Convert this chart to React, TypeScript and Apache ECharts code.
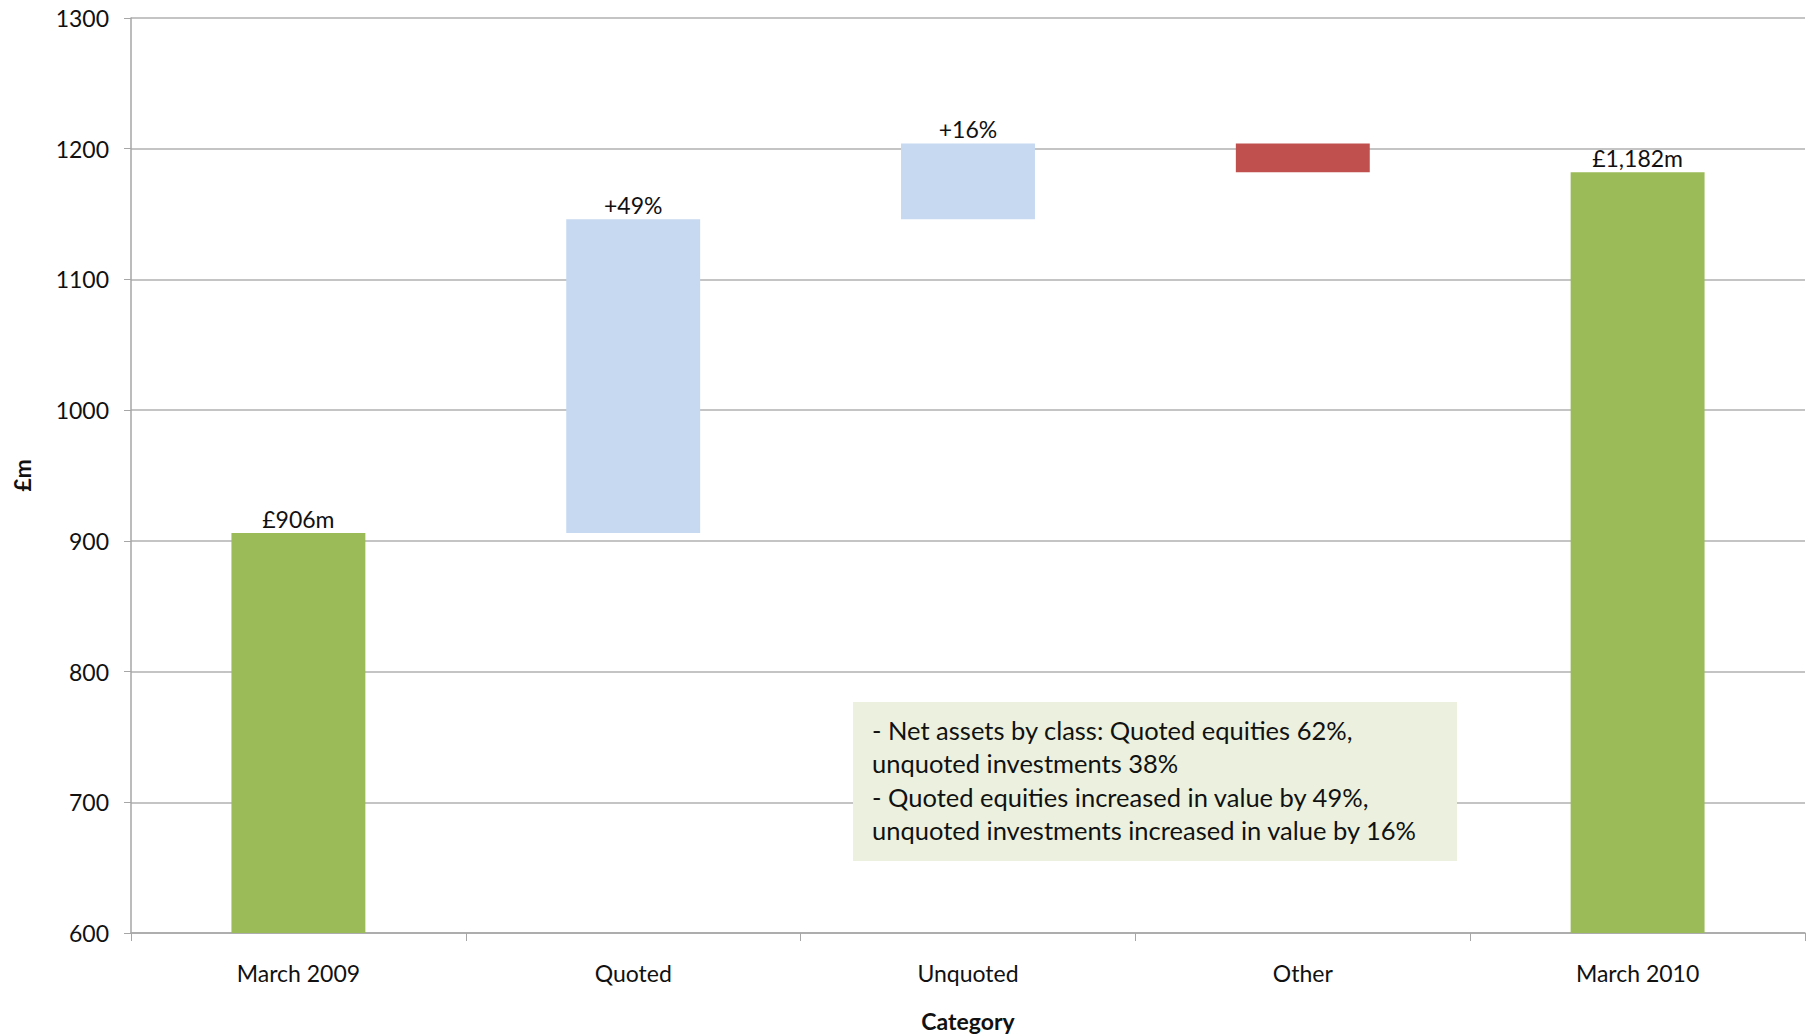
import React, { useEffect, useRef } from "react";
import * as echarts from "echarts";

// Waterfall of net assets, £m
const categories = ["March 2009", "Quoted", "Unquoted", "Other", "March 2010"];
// Invisible base under each floating bar
const baseValues = [0, 906, 1146, 1182, 0];
// Visible bar heights (change for the middle steps, totals at the ends)
const stepValues = [906, 240, 58, 22, 1182];
const barColors = ["#9BBB59", "#C6D9F1", "#C6D9F1", "#C0504D", "#9BBB59"];
const barLabels = ["£906m", "+49%", "+16%", "", "£1,182m"];
const yTicks = { min: 600, max: 1300, interval: 100 };
const noteLines = [
  "- Net assets by class: Quoted equities 62%,",
  "unquoted investments 38%",
  "- Quoted equities increased in value by 49%,",
  "unquoted investments increased in value by 16%",
];

const FONT = "Lato, 'Open Sans', sans-serif";
const INK = "#111111";

export default function App() {
  const ref = useRef<HTMLDivElement>(null);

  useEffect(() => {
    if (!ref.current) return;
    const chart = echarts.init(ref.current, undefined, { renderer: "svg" });
    chart.setOption({
      animation: false,
      textStyle: { fontFamily: FONT },
      grid: { left: 131, right: 8, top: 18, bottom: 103, outerBoundsMode: "none" },
      xAxis: {
        type: "category",
        data: categories,
        name: "Category",
        nameLocation: "middle",
        nameGap: 76,
        nameTextStyle: { fontSize: 23, fontWeight: "bold", color: INK, fontFamily: FONT },
        axisLine: { lineStyle: { color: "#A6A6A6", width: 1.5 } },
        axisTick: { show: true, length: 8, lineStyle: { color: "#A6A6A6" } },
        axisLabel: { fontSize: 23, color: INK, margin: 28, fontFamily: FONT },
      },
      yAxis: {
        type: "value",
        min: yTicks.min,
        max: yTicks.max,
        interval: yTicks.interval,
        name: "£m",
        nameLocation: "middle",
        nameGap: 98,
        nameRotate: 90,
        nameTextStyle: { fontSize: 23, fontWeight: "bold", color: INK, fontFamily: FONT },
        axisLine: { show: true, lineStyle: { color: "#A6A6A6", width: 1.5 } },
        axisTick: { show: true, length: 7, lineStyle: { color: "#A6A6A6" } },
        axisLabel: {
          fontSize: 23,
          color: INK,
          margin: 22,
          fontFamily: FONT,
          formatter: (v: number) => String(v),
        },
        splitLine: { lineStyle: { color: "#B0B0B0", width: 1.5 } },
      },
      series: [
        {
          type: "bar",
          stack: "w",
          data: baseValues,
          itemStyle: { color: "transparent" },
          barCategoryGap: "60%",
          silent: true,
        },
        {
          type: "bar",
          stack: "w",
          barCategoryGap: "60%",
          data: stepValues.map((v, i) => ({ value: v, itemStyle: { color: barColors[i] } })),
          label: {
            show: true,
            position: "top",
            distance: 3,
            fontSize: 23,
            color: INK,
            fontFamily: FONT,
            formatter: (p: any) => barLabels[p.dataIndex],
          },
        },
      ],
      graphic: [
        {
          type: "group",
          left: 853,
          top: 702,
          z: 100,
          children: [
            {
              type: "rect",
              z: 100,
              shape: { x: 0, y: 0, width: 604, height: 159 },
              style: { fill: "#EBF1DE" },
            },
            {
              type: "text",
              z: 101,
              x: 19,
              y: 11,
              style: {
                text: noteLines.join("\n"),
                fontSize: 25.5,
                lineHeight: 33.5,
                fill: INK,
                fontFamily: FONT,
              },
            },
          ],
        },
      ],
    });
    return () => chart.dispose();
  }, []);

  // Fixed to the viewport so the chart covers the whole page, body margin aside
  return (
    <div
      ref={ref}
      style={{ position: "fixed", left: 0, top: 0, width: 1813, height: 1036, background: "#fff" }}
    />
  );
}
